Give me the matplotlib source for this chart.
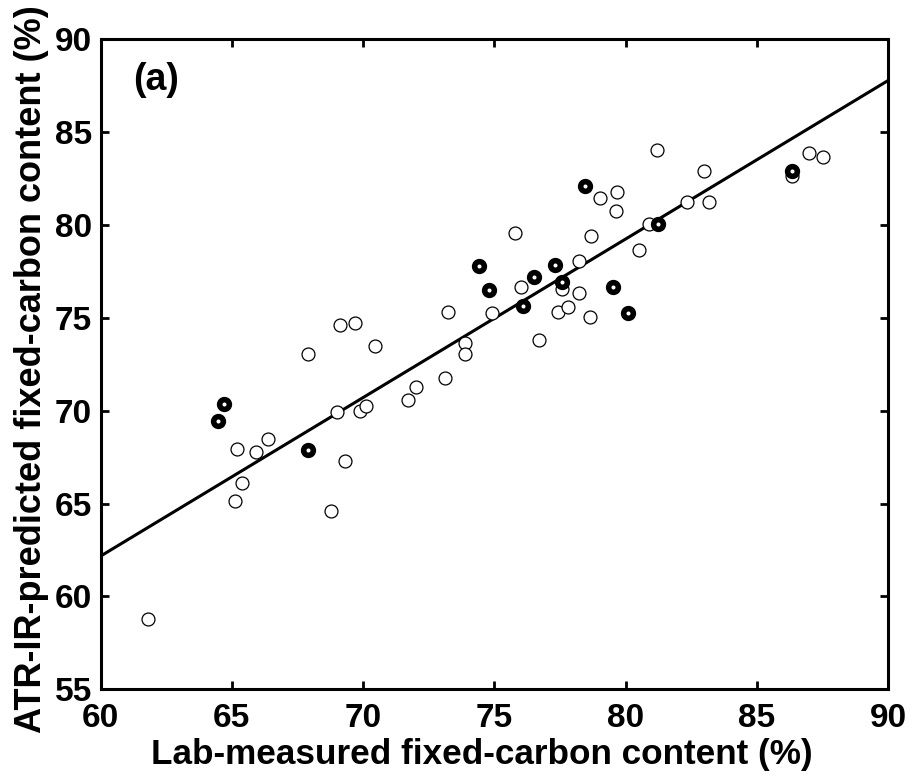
import numpy as np
import matplotlib
matplotlib.use("Agg")
import matplotlib.pyplot as plt

# open circles: calibration samples
open_x = [61.80, 65.13, 65.38, 65.18, 65.91, 66.38, 67.91, 68.79, 69.01, 69.33,
          69.11, 69.71, 69.90, 70.13, 70.47, 71.70, 72.00, 73.11, 73.22, 73.89,
          73.89, 74.91, 75.80, 76.01, 76.70, 77.41, 77.59, 77.80, 78.21, 78.21,
          78.63, 78.69, 79.01, 79.64, 79.69, 80.53, 80.90, 81.21, 82.33, 83.00,
          83.19, 86.33, 87.00, 87.51]
open_y = [58.81, 65.13, 66.09, 67.96, 67.80, 68.47, 73.04, 64.59, 69.91, 67.28,
          74.62, 74.75, 70.00, 70.28, 73.49, 70.56, 71.30, 71.77, 75.29, 73.65,
          73.04, 75.24, 79.55, 76.64, 73.79, 75.29, 76.56, 75.60, 76.34, 78.05,
          75.07, 79.39, 81.43, 80.76, 81.79, 78.67, 80.04, 84.04, 81.23, 82.92,
          81.23, 82.65, 83.90, 83.68]

# bold circles: validation samples
bold_x = [64.48, 64.70, 67.91, 74.43, 74.78, 76.11, 76.53, 77.33, 77.59, 78.44,
          79.54, 80.11, 81.23, 86.33]
bold_y = [69.46, 70.36, 67.87, 77.82, 76.50, 75.65, 77.22, 77.87, 76.91, 82.11,
          76.64, 75.27, 80.08, 82.92]

# regression line end points
fit_x = [60, 90]
fit_y = [62.17, 87.78]

xticks = [60, 65, 70, 75, 80, 85, 90]
yticks = [55, 60, 65, 70, 75, 80, 85, 90]

plt.rcParams['font.family'] = ['Liberation Sans', 'DejaVu Sans']
plt.rcParams['font.weight'] = 'bold'

fig = plt.figure(figsize=(9.14, 7.77), dpi=100)
ax = fig.add_axes([0.110, 0.1129, 0.8616, 0.8365])

ax.plot(fit_x, fit_y, color='black', lw=2.2, zorder=2)
ax.plot(open_x, open_y, 'o', ms=9.3, mfc='white', mec='black', mew=0.9, ls='none', zorder=3)
ax.plot(bold_x, bold_y, 'o', ms=7, mfc='white', mec='black', mew=4, ls='none', zorder=4)

ax.set_xlim(60, 90)
ax.set_ylim(55, 90)
ax.set_xticks(xticks)
ax.set_yticks(yticks)
ax.tick_params(direction='in', length=6, width=2, top=True, right=True,
               labelsize=24)
ax.tick_params(axis='x', pad=10)
ax.tick_params(axis='y', pad=6)
for lab in ax.get_xticklabels() + ax.get_yticklabels():
    lab.set_fontweight('bold')
for sp in ax.spines.values():
    sp.set_linewidth(2.2)

ax.set_xlabel('Lab-measured fixed-carbon content (%)', fontsize=25.3,
              fontweight='bold', labelpad=3)
ax.set_ylabel('ATR-IR-predicted fixed-carbon content (%)', fontsize=26,
              fontweight='bold', labelpad=4)
ax.xaxis.label.set_x(0.484)
ax.yaxis.label.set_y(0.493)
ax.text(61.25, 87.8, '(a)', fontsize=27, fontweight='bold', va='center', ha='left')

fig.savefig('out.png', dpi=100)
